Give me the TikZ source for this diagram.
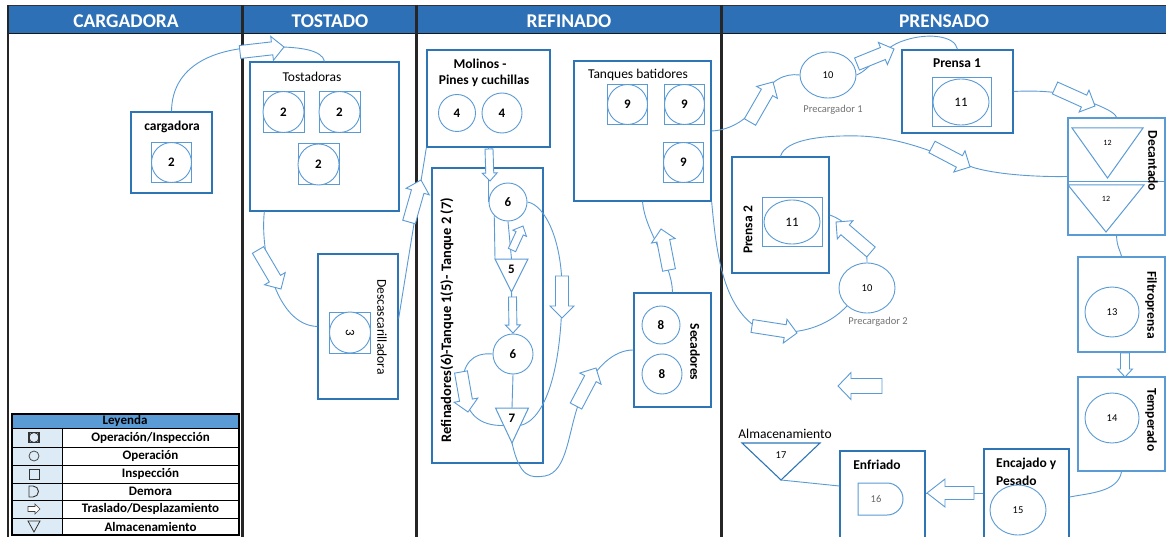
\documentclass[tikz,border=0pt]{standalone}
\usepackage{fontspec}
\setmainfont{Carlito}
\usetikzlibrary{calc,shapes.geometric}
\definecolor{lblue}{RGB}{91,155,213}
\definecolor{dblue}{RGB}{46,117,182}
\definecolor{hdr}{RGB}{46,112,182}
\definecolor{legcol}{RGB}{221,235,247}
\definecolor{leghdr}{RGB}{91,155,213}
\newcommand\myfs[1]{\fontsize{#1}{#1}\selectfont}
\newcommand\barrowgen[6][barrowsty]{%
  \draw[#1] let \p1=#5, \p2=#6, \n1={atan2(\y2-\y1,\x2-\x1)}, \n2={veclen(\x2-\x1,\y2-\y1)} in
  ([shift={(\p1)},rotate=\n1]0pt,-#2) -- ([shift={(\p1)},rotate=\n1]{\n2-#4},-#2) --
  ([shift={(\p1)},rotate=\n1]{\n2-#4},-#3) -- ([shift={(\p1)},rotate=\n1]{\n2+0pt},0pt) --
  ([shift={(\p1)},rotate=\n1]{\n2-#4},#3) -- ([shift={(\p1)},rotate=\n1]{\n2-#4},#2) --
  ([shift={(\p1)},rotate=\n1]0pt,#2) -- cycle;}
\newcommand\barr[2]{\barrowgen{6.5pt}{12pt}{12pt}{#1}{#2}}
\newcommand\sarr[2]{\barrowgen{4pt}{7.5pt}{8pt}{#1}{#2}}
\newcommand\opins[4]{\node[sqsty, minimum size=#3] (#1) at (#2) {};
  \node[circsty, minimum size=#3] (#1c) at (#2) {#4};}
\newcommand\tri[7]{%
  \draw[tristy] ({#2-#4},#3) coordinate (#1-l) -- ({#2+#4},#3) coordinate (#1-r) -- (#2,{#3+#5}) coordinate (#1-b) -- cycle;
  \node[font=#7, inner sep=0pt] (#1) at (#2,{#3+0.3*#5}) {#6};}
\begin{document}
\begin{tikzpicture}[x=1pt,y=-1pt,
  box/.style={draw=dblue, line width=1.3pt, inner sep=0pt},
  lbox/.style={draw=lblue, line width=1.5pt, inner sep=0pt},
  sqsty/.style={draw=lblue, line width=1pt, inner sep=0pt},
  circsty/.style={circle, draw=lblue, line width=0.9pt, fill=white, inner sep=0pt, font=\bfseries\myfs{13}},
  ellsty/.style={ellipse, draw=lblue, line width=0.9pt, fill=white, inner sep=0pt, font=\myfs{10.5}},
  conn/.style={draw=lblue, line width=0.9pt},
  barrowsty/.style={draw=lblue, fill=white, line width=0.9pt, line join=miter},
  legarrow/.style={draw=black!75, fill=white, line width=0.7pt},
  tristy/.style={draw=lblue, line width=1pt},
  txt/.style={inner sep=0pt, font=\myfs{13.5}},
  btxt/.style={inner sep=0pt, font=\bfseries\myfs{13.5}},
  hdrtxt/.style={inner sep=0pt, text=white, font=\bfseries\myfs{19.5}},
  legtxt/.style={inner sep=0pt, font=\bfseries\myfs{13}}]
\useasboundingbox (0,0) rectangle (1166,537);
\fill[white] (0,0) rectangle (1166,537);
% header
\fill[hdr] (8,6) rectangle (1166,33.5);
\draw[black!80, line width=1pt] (8,5.5) -- (1166,5.5);
\draw[black!90, line width=1.6pt] (8,33.5) -- (1166,33.5);
\foreach \x in {8,242.5,416.5,721.5} \draw[black!85, line width=2.6pt] (\x,5) -- (\x,537);
\node[hdrtxt] (hCarg) at (126,21) {CARGADORA};
\node[hdrtxt] (hTost) at (330,21) {TOSTADO};
\node[hdrtxt] (hRef) at (569,21) {REFINADO};
\node[hdrtxt] (hPren) at (944,21) {PRENSADO};

% ---------- CARGADORA
\node[box, minimum width=81, minimum height=81] (cargBox) at (171.5,152.5) {};
\node[btxt] (cargLbl) at (172,127) {cargadora};
\opins{cargOp}{171.5,162.5}{40}{2}

% ---------- TOSTADO
\node[box, minimum width=149, minimum height=149] (tostBox) at (324.5,136.5) {};
\node[txt] (tostLbl) at (312,77) {Tostadoras};
\opins{tost1}{283.5,112}{41}{2}
\opins{tost2}{339.5,112}{41}{2}
\opins{tost3}{318.5,164.5}{41}{2}
\node[box, minimum width=80, minimum height=145] (descBox) at (358,326.5) {};
\node[sqsty, minimum size=41] (descSq) at (350,332.5) {};
\node[circsty, minimum size=41, rotate=-90, font=\myfs{13}] (descOp) at (350,332.5) {3};
\node[txt, rotate=-90] (descLbl) at (382,327) {Descascarilladora};

% ---------- REFINADO
\node[box, minimum width=123, minimum height=97] (molBox) at (488.5,98.5) {};
\node[btxt] (molLbl1) at (480,64) {Molinos -};
\node[btxt] (molLbl2) at (484,81) {Pines y cuchillas};
\node[circsty, minimum size=37] (mol1) at (457,113) {4};
\node[circsty, minimum size=40] (mol2) at (502,113) {4};
\node[box, minimum width=111, minimum height=295] (refBox) at (487.5,315.5) {};
\node[btxt, rotate=90, font=\bfseries\myfs{14.5}] (refLbl) at (447,320) {Refinadores(6)-Tanque 1(5)- Tanque 2 (7)};
\node[circsty, minimum size=38] (c6a) at (508,202) {6};
\node[circsty, minimum size=40] (c6b) at (513,354) {6};
\tri{tri5}{511.5}{259}{16.5}{33}{5}{\bfseries\myfs{13}}
\tri{tri7}{512}{408}{16.5}{35}{7}{\bfseries\myfs{13}}
\node[box, minimum width=137, minimum height=140] (tanBox) at (642.5,131) {};
\node[txt] (tanLbl) at (638,75) {Tanques batidores};
\opins{tan1}{627.5,104.5}{40}{9}
\opins{tan2}{684.5,104.5}{40}{9}
\opins{tan3}{683.5,162.5}{40}{9}
\node[box, minimum width=77, minimum height=114] (secBox) at (672.5,350) {};
\node[circsty, minimum size=38] (sec1) at (661,325) {8};
\node[circsty, minimum size=40] (sec2) at (662,374) {8};
\node[btxt, rotate=-90] (secLbl) at (695,352) {Secadores};

% ---------- PRENSADO
\node[ellsty, minimum width=56, minimum height=46] (pc1) at (828,75) {10};
\node[inner sep=0pt, font=\myfs{10.5}, text=black!55] (pc1Lbl) at (833,110) {Precargador 1};
\node[box, minimum width=111, minimum height=83] (p1Box) at (957.5,91.5) {};
\node[btxt] (p1Lbl) at (957,63) {Prensa 1};
\node[sqsty, minimum width=59, minimum height=49] (p1Sq) at (961.5,102.5) {};
\node[ellsty, minimum width=56, minimum height=46, font=\myfs{13}] (p1Ell) at (961,102) {11};
\node[lbox, minimum width=97, minimum height=117] (decBox) at (1116.5,176.5) {};
\draw[lblue, line width=1pt] (decBox.west |- 0,182) -- (decBox.east |- 0,182);
\tri{dec1}{1107.5}{128}{35.5}{50}{12}{\myfs{8}}
\tri{dec2}{1106}{185}{38}{47}{12}{\myfs{8}}
\node[btxt, rotate=-90] (decLbl) at (1153,161) {Decantado};
\node[box, minimum width=97, minimum height=116] (p2Box) at (780.5,215) {};
\node[btxt, rotate=90] (p2Lbl) at (748,230) {Prensa 2};
\node[sqsty, minimum width=60, minimum height=49] (p2Sq) at (792,222.5) {};
\node[ellsty, minimum width=56, minimum height=44, font=\myfs{13}] (p2Ell) at (792,222) {11};
\node[ellsty, minimum width=56, minimum height=50] (pc2) at (867,288) {10};
\node[inner sep=0pt, font=\myfs{10.5}, text=black!55] (pc2Lbl) at (878,322) {Precargador 2};
\node[lbox, minimum width=87, minimum height=95] (filBox) at (1121.5,304.5) {};
\node[ellsty, minimum width=54, minimum height=50] (filEll) at (1112,312) {13};
\node[btxt, rotate=-90] (filLbl) at (1151,305) {Filtroprensa};
\node[lbox, minimum width=87, minimum height=94] (temBox) at (1121.5,424) {};
\node[ellsty, minimum width=54, minimum height=50] (temEll) at (1112,418) {14};
\node[btxt, rotate=-90] (temLbl) at (1151,420) {Temperado};
\node[box, minimum width=85, minimum height=96] (encBox) at (1026.5,497) {};
\node[btxt, anchor=west] (encLbl1) at (996,464) {Encajado y};
\node[btxt, anchor=west] (encLbl2) at (996,481) {Pesado};
\node[ellsty, minimum width=56, minimum height=50] (encEll) at (1018,510) {15};
\node[box, minimum width=85, minimum height=94] (enfBox) at (882.5,498) {};
\node[btxt] (enfLbl) at (877,465) {Enfriado};
\draw[lblue, line width=1pt] (858,483) -- (887,483) arc[start angle=-90, end angle=90, radius=16] -- (858,515) -- cycle;
\node[inner sep=0pt, font=\myfs{10.5}, text=black!60] (enfDem) at (876,499) {16};
\draw[dblue, line width=1.1pt] (742,443) coordinate (alm-l) -- (820,443) coordinate (alm-r) -- (781,480) coordinate (alm-b) -- cycle;
\node[inner sep=0pt, font=\myfs{10.5}] (alm) at (781,455) {17};
\node[txt] (almLbl) at (785,434) {Almacenamiento};

% ---------- connectors
\draw[conn] (cargBox.north) .. controls (172,65) and (215,48) .. (262,47) .. controls (300,46) and (322,50) .. (tostBox.north);
\draw[conn] ($(tostBox.south west)+(15,0)$) .. controls (260,250) and (275,325) .. (descBox.west);
\draw[conn] ($(descBox.east)+(0,-8)$) .. controls (408,260) and (418,200) .. (molBox.south west);
\draw[conn] (molBox.south) -- (c6a.west);
\draw[conn] (c6a.south west) -- (tri5-l);
\draw[conn] ($(tri5-l)!0.5!(tri5-r)$) -- (c6a.south);
\draw[conn] (tri5-b) -- (c6b.north);
\draw[conn] (c6b.south) -- ($(tri7-l)!0.5!(tri7-r)$);
\draw[conn] (c6b.west) .. controls (472,352) and (462,365) .. (463,385) .. controls (465,415) and (480,426) .. ($(tri7-l)!0.5!(tri7-b)$);
\draw[conn] (c6a.east) .. controls (545,205) and (562,240) .. (562,290) .. controls (562,370) and (545,420) .. ($(tri7-r)!0.5!(tri7-b)$);
\draw[conn] (tri7-b) .. controls (520,478) and (530,478) .. (545,476) .. controls (568,472) and (568,430) .. (580,400) .. controls (595,365) and (615,350) .. (secBox.west);
\draw[conn] (secBox.north) .. controls (672,262) and (645,232) .. (tanBox.south);
\draw[conn] (tanBox.east) .. controls (732,130) and (750,118) .. (760,100) .. controls (770,80) and (785,73) .. (pc1.west);
\draw[conn] (pc1.east) .. controls (870,70) and (880,50) .. (900,42) .. controls (925,32) and (955,35) .. (p1Box.north);
\draw[conn] (p1Box.east) .. controls (1040,90) and (1070,92) .. (1090,102) .. controls (1105,108) and (1114,112) .. (decBox.north);
\draw[conn] (p2Box.north) .. controls (785,140) and (820,135) .. (860,136) .. controls (910,138) and (950,160) .. (975,168) .. controls (1000,175) and (1040,177) .. (decBox.west);
\draw[conn] (pc2.north) .. controls (868,240) and (845,220) .. (p2Box.east);
\draw[conn] (tanBox.south east) .. controls (716,250) and (722,300) .. (752,324) .. controls (775,338) and (820,335) .. (pc2.south west);
\draw[conn] (decBox.south) .. controls (1117,247) and (1120,250) .. (filBox.north);
\draw[conn] (temBox.south) .. controls (1118,492) and (1090,493) .. (encBox.east);
\draw[conn] ($(encBox.west)+(0,-4)$) -- ($(enfBox.east)+(0,-5)$);
\draw[conn] ($(enfBox.west)+(0,-12)$) -- (alm-b);

% ---------- block arrows
\barr{(240,52)}{(284,47)}
\barr{(258,250)}{(281,289)}
\barr{(409,222)}{(421,180)}
\sarr{(489,149)}{(490,181)}
\sarr{(512,250)}{(523,226)}
\sarr{(512.5,297)}{(513,333)}
\barr{(461,372)}{(468,412)}
\barr{(562,276)}{(562,318)}
\barr{(576,406)}{(596,368)}
\barr{(669,270)}{(661,229)}
\barr{(750,122)}{(773,82)}
\barr{(857,64)}{(894,49)}
\barr{(1055,88)}{(1095,106)}
\barr{(932,147)}{(970,167)}
\barr{(871,252)}{(836,222)}
\barr{(752,326)}{(797,333)}
\barrowgen{4.5pt}{7.5pt}{8pt}{(1125,353)}{(1125,377)}
\barrowgen{6.5pt}{14pt}{18pt}{(974,493)}{(927,493)}
\barrowgen{7.5pt}{13.5pt}{13pt}{(882,386)}{(838,386)}

% ---------- legend
\fill[leghdr] (12,414) rectangle (239,428);
\fill[legcol] (12,428) rectangle (62,535);
\foreach \y in {428,447,465,483,500,518} \draw[black, line width=0.8pt] (12,\y) -- (239,\y);
\draw[black, line width=0.8pt] (62,428) -- (62,535);
\draw[black, line width=1.3pt] (12,414) rectangle (239,535);
\node[legtxt] (legH) at (125,421) {Leyenda};
\node[legtxt] (leg1) at (150.5,437.5) {Operación/Inspección};
\node[legtxt] (leg2) at (150.5,456) {Operación};
\node[legtxt] (leg3) at (150.5,474) {Inspección};
\node[legtxt] (leg4) at (150.5,491.5) {Demora};
\node[legtxt] (leg5) at (150.5,509) {Traslado/Desplazamiento};
\node[legtxt] (leg6) at (150.5,526.5) {Almacenamiento};
\draw[black!80, line width=1.2pt] (29,432.5) rectangle (39,442.5);
\draw[black!80, line width=0.8pt] (34,437.5) circle[radius=5];
\draw[black!70, line width=0.8pt] (34,456) circle[radius=5];
\draw[black!80, line width=0.9pt] (29,469) rectangle (39,479);
\draw[black!80, line width=0.9pt] (29,486) -- (33,486) arc[start angle=-90, end angle=90, radius=5.5] -- (29,497) -- cycle;
\barrowgen[legarrow]{2.5pt}{5pt}{5pt}{(28,509)}{(40,509)}
\draw[black!80, line width=0.8pt] (28,521) -- (40,521) -- (34,532) -- cycle;
\end{tikzpicture}
\end{document}
